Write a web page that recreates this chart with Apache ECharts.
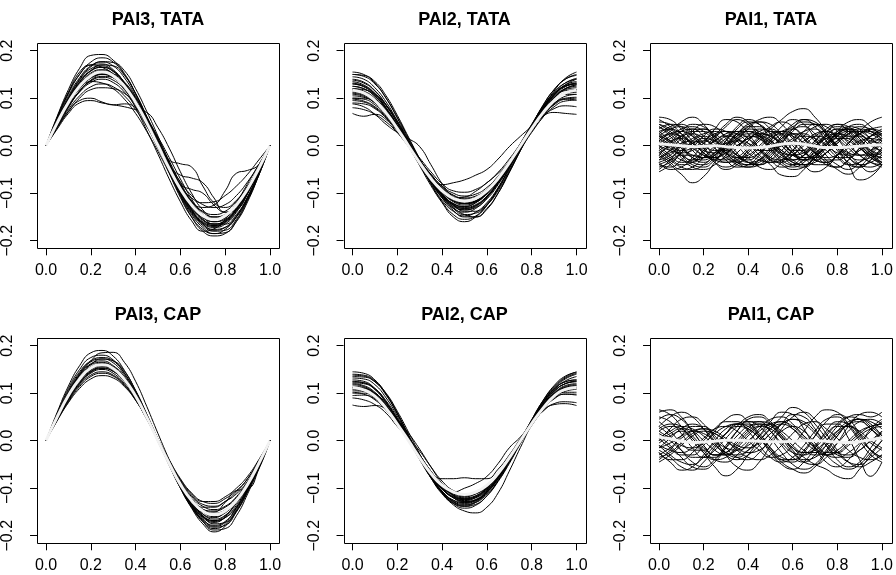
<!DOCTYPE html>
<html><head><meta charset="utf-8">
<script src="https://cdn.jsdelivr.net/npm/echarts@6/dist/echarts.min.js"></script>
<style>html,body{margin:0;padding:0;background:#fff}#c{width:896px;height:575px}</style>
</head><body><div id="c"></div>
<script>
// ---------- data (curve values in thousandths) ----------
const xGrid = [0,0.05,0.1,0.15,0.2,0.25,0.3,0.35,0.4,0.45,0.5,0.55,0.6,0.65,0.7,0.75,0.8,0.85,0.9,0.95,1];
const xTicks = [0,0.2,0.4,0.6,0.8,1];
const xTickLabels = ['0.0','0.2','0.4','0.6','0.8','1.0'];
const yTicks = [-0.2,-0.1,0,0.1,0.2];
const yTickLabels = ['\u22120.2','\u22120.1','0.0','0.1','0.2'];
const titles = ['PAI3, TATA','PAI2, TATA','PAI1, TATA','PAI3, CAP','PAI2, CAP','PAI1, CAP'];

const pai3Tata = [
[0,62,118,163,190,192,180,152,110,60,5,-50,-105,-150,-180,-190,-185,-158,-115,-62,0],
[0,57,109,150,176,185,176,150,109,57,0,-57,-109,-150,-176,-185,-176,-150,-109,-57,0],
[0,52,100,140,166,177,175,158,120,72,20,-35,-88,-134,-165,-176,-172,-150,-112,-62,0],
[0,58,112,155,170,165,150,120,80,32,-18,-70,-118,-158,-180,-175,-155,-120,-80,-40,0],
[0,51,97,133,157,165,157,133,97,51,0,-51,-97,-133,-157,-165,-157,-133,-97,-51,0],
[0,50,95,130,153,160,152,130,96,52,5,-48,-98,-138,-162,-170,-162,-138,-100,-53,0],
[0,46,88,121,143,150,143,121,88,46,0,-50,-94,-130,-152,-160,-152,-130,-94,-50,0],
[0,42,82,115,137,146,144,130,100,58,12,-36,-82,-120,-145,-152,-145,-125,-92,-50,0],
[0,43,82,113,133,140,133,113,82,43,0,-45,-85,-117,-138,-145,-138,-117,-85,-45,0],
[0,45,88,120,135,132,120,98,68,30,-12,-58,-105,-145,-172,-185,-183,-160,-118,-62,0],
[0,40,76,105,124,130,124,105,76,40,0,-40,-76,-105,-124,-130,-124,-105,-76,-40,0],
[0,38,72,95,100,92,86,88,80,55,18,-25,-70,-112,-145,-160,-155,-132,-96,-50,0],
[0,35,68,90,95,90,86,82,76,70,38,-5,-55,-100,-135,-150,-145,-125,-92,-48,0],
[0,48,92,128,150,158,150,125,88,45,2,-30,-38,-45,-85,-120,-130,-115,-85,-45,0],
[0,45,86,120,142,150,143,122,90,48,2,-45,-88,-118,-130,-125,-95,-58,-52,-40,0],
[0,47,90,124,146,154,146,124,90,47,0,-45,-85,-110,-120,-118,-105,-85,-60,-30,0],
[0,38,72,100,118,122,120,110,88,52,10,-38,-85,-125,-155,-168,-160,-135,-98,-52,0],
[0,55,104,143,168,176,168,143,104,55,0,-52,-100,-140,-165,-178,-172,-148,-108,-57,0],
[0,60,112,150,170,172,160,132,92,45,-5,-55,-102,-142,-168,-180,-178,-155,-112,-58,0],
[0,50,96,133,158,170,168,148,110,62,12,-40,-92,-135,-163,-172,-165,-140,-102,-54,0],
[0,44,84,115,136,144,138,118,86,46,2,-42,-82,-116,-140,-150,-146,-128,-95,-50,0],
[0,53,100,138,162,168,158,132,94,48,-2,-52,-98,-136,-160,-168,-160,-135,-98,-52,0],
[0,40,80,115,138,150,150,134,102,60,15,-32,-78,-118,-148,-165,-165,-145,-108,-58,0],
[0,47,92,128,150,156,146,122,86,42,-5,-52,-95,-130,-155,-165,-158,-134,-96,-50,0],
[0,46,88,122,144,152,144,122,88,46,0,-42,-62,-68,-78,-110,-140,-135,-100,-52,0],
[0,52,98,135,158,165,156,130,92,46,-2,-50,-82,-92,-100,-125,-140,-128,-95,-50,0]
];
const pai3TataMean = [0,48,91,125,147,155,147,125,91,48,0,-48,-91,-125,-147,-155,-147,-125,-91,-48,0];

const pai2Tata = [
[155,150,132,100,58,12,-35,-80,-118,-145,-155,-148,-125,-90,-48,-2,42,85,118,140,150],
[145,140,122,92,52,8,-38,-80,-115,-138,-148,-140,-120,-88,-46,-2,42,84,118,140,148],
[138,132,115,86,48,5,-38,-76,-108,-128,-135,-130,-112,-82,-44,-2,40,80,112,132,140],
[130,125,108,80,44,3,-36,-72,-102,-122,-130,-124,-106,-77,-40,2,42,78,106,124,132],
[125,120,104,78,42,2,-38,-74,-104,-122,-128,-120,-100,-70,-34,5,45,82,110,125,130],
[120,115,100,74,40,2,-36,-70,-98,-116,-122,-116,-98,-70,-36,2,40,75,102,118,122],
[115,112,98,74,42,6,-32,-68,-96,-114,-120,-116,-100,-74,-40,-2,36,72,100,116,118],
[110,106,92,68,36,0,-36,-70,-98,-116,-122,-118,-102,-76,-42,-4,34,70,96,110,112],
[105,102,90,68,38,4,-30,-62,-90,-108,-115,-110,-94,-68,-35,2,38,70,95,108,108],
[100,98,86,65,36,4,-30,-62,-88,-105,-112,-108,-92,-66,-34,2,38,70,96,112,118],
[95,92,80,60,32,0,-34,-66,-94,-112,-118,-112,-95,-68,-34,2,36,66,88,100,102],
[90,88,78,58,32,2,-30,-60,-85,-100,-106,-102,-88,-64,-32,2,35,64,86,98,100],
[68,62,66,55,28,-2,-35,-68,-98,-118,-125,-118,-100,-72,-38,0,36,70,96,110,115],
[88,82,66,45,28,15,-2,-40,-80,-108,-122,-116,-98,-70,-36,0,36,70,96,112,118],
[130,124,106,78,42,2,-35,-66,-82,-78,-72,-62,-50,-28,-2,20,42,70,100,120,128],
[108,104,90,68,36,2,-34,-68,-96,-110,-108,-96,-78,-58,-34,-6,28,60,88,104,108],
[140,134,116,86,48,6,-36,-74,-105,-125,-132,-126,-108,-80,-44,-4,36,72,100,120,128],
[120,118,108,86,52,12,-28,-66,-100,-124,-138,-138,-122,-92,-52,-8,36,76,108,128,135],
[112,108,94,70,38,2,-36,-72,-104,-126,-135,-128,-108,-78,-40,2,42,80,108,126,132],
[135,128,110,80,42,0,-40,-78,-110,-132,-140,-132,-110,-78,-40,2,40,76,104,120,125],
[100,100,92,72,42,6,-32,-70,-104,-130,-145,-150,-134,-100,-56,-10,32,68,90,98,96],
[118,112,96,70,36,-2,-40,-76,-105,-122,-128,-120,-100,-70,-34,4,40,62,70,68,66],
[150,146,130,100,60,16,-28,-70,-106,-132,-145,-142,-125,-95,-55,-10,34,74,106,128,140],
[98,94,82,62,34,2,-30,-60,-86,-104,-110,-106,-92,-68,-38,-4,30,60,82,94,96],
[132,126,110,84,48,8,-32,-70,-102,-124,-132,-126,-106,-76,-38,4,44,82,112,132,142],
[125,120,104,76,40,0,-42,-84,-120,-150,-160,-150,-126,-90,-48,-4,40,78,108,126,130],
[80,76,66,50,28,2,-26,-55,-80,-95,-98,-92,-78,-56,-28,4,36,62,78,84,82],
[150,148,135,105,64,18,-28,-72,-110,-136,-150,-150,-132,-100,-56,-8,38,80,115,142,155]
];
const pai2TataMean = [117,111,95,69,36,0,-36,-69,-95,-111,-117,-111,-95,-69,-36,0,36,69,95,111,117];

const pai1Tata = [
[60,55,35,10,-15,-30,-25,-5,20,35,30,10,-15,-30,-20,5,25,35,20,0,-10],
[-55,-40,-15,10,20,5,-20,-40,-45,-30,-5,15,25,15,-10,-35,-45,-30,-5,20,30],
[20,35,40,25,-5,-35,-50,-40,-15,10,25,30,15,-10,-30,-35,-20,5,25,35,30],
[-10,-30,-45,-50,-40,-20,0,20,30,20,0,-20,-30,-20,0,20,35,30,10,-15,-25],
[40,25,0,-25,-35,-20,10,40,55,45,15,-15,-35,-40,-25,0,20,30,25,10,5],
[-30,-20,5,30,45,40,15,-15,-35,-40,-25,5,35,55,50,25,-10,-35,-45,-30,-5],
[10,-10,-30,-35,-15,15,40,55,45,20,-10,-35,-45,-35,-10,20,35,25,0,-25,-35],
[50,45,25,0,-20,-25,-10,15,30,25,5,-20,-40,-45,-30,-5,20,40,45,30,15],
[-40,-45,-30,-5,20,35,30,10,-15,-30,-35,-20,5,30,45,40,15,-15,-40,-55,-40],
[0,15,30,35,20,-5,-30,-45,-40,-20,10,40,55,45,15,-20,-40,-50,-35,-10,15],
[25,5,-20,-40,-45,-30,-5,20,40,55,60,45,20,-10,-30,-35,-20,5,25,35,40],
[-20,5,30,45,40,20,-5,-25,-30,-15,10,30,35,20,-5,-30,-50,-60,-45,-20,5],
[35,45,40,20,-5,-25,-30,-15,10,30,35,20,-10,-40,-55,-45,-20,5,25,30,20],
[-5,-25,-40,-35,-10,20,45,60,50,25,-5,-30,-40,-30,-5,25,45,40,15,-15,-35],
[15,25,20,5,-15,-30,-35,-25,-5,20,40,50,40,15,-15,-40,-45,-30,-5,20,35],
[-45,-35,-15,5,15,10,-5,-20,-25,-15,5,25,40,50,45,25,0,-20,-30,-25,-15],
[30,10,-15,-35,-40,-25,0,25,35,30,10,-15,-35,-40,-25,0,30,50,55,40,20],
[-25,-15,0,15,25,30,20,0,-25,-45,-50,-35,-10,20,40,45,30,5,-20,-35,-40],
[5,20,35,40,30,10,-15,-35,-45,-40,-20,5,30,45,45,25,-5,-40,-72,-65,-40],
[45,35,15,-5,-20,-25,-15,0,15,20,10,-10,-30,-40,-35,-15,10,30,40,35,25],
[-15,-35,-50,-45,-25,0,20,25,15,-5,-25,-40,-50,-45,-25,0,25,40,35,15,-5],
[10,30,50,60,45,15,-15,-35,-40,-30,-10,15,35,40,25,0,-25,-40,-35,-15,10],
[-35,-50,-45,-25,5,35,55,50,25,-5,-30,-45,-40,-20,10,35,45,30,5,-20,-35],
[20,0,-25,-45,-50,-40,-20,10,35,50,45,25,0,-25,-40,-40,-20,5,30,50,60],
[0,-10,-15,-10,5,20,30,25,5,-20,-40,-62,-65,-50,-20,10,30,35,25,5,-15],
[-50,-30,0,25,35,25,5,-20,-35,-30,-10,20,45,55,40,10,-20,-40,-45,-30,-10],
[55,40,15,-10,-25,-20,0,25,45,50,35,10,-15,-30,-30,-15,5,20,20,5,-15],
[-20,-40,-60,-78,-65,-35,-5,15,25,20,5,-10,-20,-15,0,15,25,20,5,-10,-20],
[25,40,45,30,5,-20,-35,-30,-10,15,35,55,72,78,60,30,0,-25,-40,-35,-20],
[-10,5,20,25,15,-5,-25,-35,-25,-5,15,25,20,5,-15,-30,-30,-15,5,20,25],
[40,20,-5,-25,-30,-15,10,35,50,45,25,0,-20,-25,-15,5,25,35,30,15,0],
[-30,-10,15,30,30,15,-10,-30,-40,-35,-15,10,25,25,10,-10,-25,-25,-10,10,25],
[5,-5,-20,-30,-25,-5,15,30,30,15,-5,-25,-30,-20,0,15,20,10,-5,-20,-25],
[-35,-25,-10,5,10,0,-15,-25,-20,0,20,30,25,5,-15,-25,-20,-5,10,15,10],
[30,35,25,5,-10,-15,-5,10,20,15,0,-15,-20,-10,10,30,40,35,15,-10,-30],
[-5,10,15,5,-15,-35,-45,-35,-10,15,30,25,5,-15,-25,-15,5,25,35,30,15],
[15,0,-10,-5,10,25,30,15,-5,-25,-35,-30,-10,10,20,15,-5,-25,-40,-45,-35],
[-25,-10,5,10,0,-10,-10,0,15,25,20,0,-20,-30,-20,0,15,15,0,-20,-40],
[45,30,10,-5,-5,10,25,30,15,-10,-30,-35,-20,5,25,30,15,-5,-20,-20,-5],
[-15,0,20,35,35,20,0,-20,-35,-40,-30,-10,10,20,15,0,-15,-20,-10,5,15],
[20,10,-5,-20,-25,-15,5,25,40,40,25,5,-15,-25,-20,-5,10,25,30,25,10],
[-40,-30,-20,-20,-25,-25,-15,0,15,25,20,5,-10,-10,5,20,25,15,-5,-25,-40],
[0,-20,-35,-30,-10,10,20,15,0,-10,-10,0,15,30,35,20,0,-15,-20,-10,5],
[10,25,30,20,5,0,5,10,5,-10,-25,-30,-20,0,20,30,20,0,-20,-35,-45]
];
const pai1TataMean = [4,2,0,-2,-1,0,-2,-4,-5,-4,-1,3,5,3,-1,-4,-4,-3,-1,1,2];

const pai3Cap = [
[0,60,115,158,185,190,178,148,105,55,3,-50,-100,-142,-175,-192,-180,-148,-105,-55,0],
[0,52,100,140,168,185,186,165,125,72,15,-40,-92,-136,-170,-188,-185,-158,-112,-58,0],
[0,57,110,150,175,180,170,142,100,52,2,-48,-96,-136,-165,-180,-172,-140,-100,-52,0],
[0,54,103,142,166,172,164,138,100,52,2,-50,-98,-138,-166,-178,-170,-142,-102,-53,0],
[0,52,100,138,162,168,158,134,96,50,0,-50,-96,-134,-160,-170,-162,-136,-98,-52,0],
[0,50,96,133,156,163,155,131,95,50,0,-49,-94,-130,-155,-165,-157,-132,-96,-50,0],
[0,48,93,128,150,158,150,128,93,48,0,-48,-92,-126,-150,-160,-152,-128,-93,-48,0],
[0,47,90,124,146,153,146,124,90,47,0,-46,-88,-122,-144,-152,-146,-124,-90,-47,0],
[0,45,87,120,142,150,142,120,87,45,0,-45,-86,-118,-138,-145,-138,-118,-86,-45,0],
[0,44,84,117,138,145,138,118,86,46,2,-44,-84,-115,-134,-138,-128,-108,-80,-42,0],
[0,43,82,114,135,142,136,116,86,46,2,-42,-82,-112,-128,-128,-118,-100,-75,-40,0],
[0,42,80,110,130,137,132,114,85,46,3,-40,-80,-110,-128,-132,-122,-105,-80,-42,0],
[0,46,90,125,148,158,152,130,95,50,2,-46,-92,-130,-158,-175,-172,-148,-106,-55,0],
[0,50,97,135,160,172,168,146,106,56,3,-50,-98,-140,-170,-185,-176,-145,-102,-52,0],
[0,48,92,128,152,162,156,134,98,52,2,-48,-94,-134,-162,-172,-160,-128,-100,-58,0],
[0,45,88,122,144,152,146,125,92,48,0,-48,-92,-128,-150,-150,-130,-105,-102,-60,0],
[0,52,100,138,160,165,155,130,94,48,0,-48,-94,-132,-158,-168,-162,-140,-102,-54,0],
[0,56,106,145,168,175,168,142,103,54,0,-52,-100,-140,-168,-182,-178,-150,-108,-56,0],
[0,44,86,120,145,155,150,130,96,52,4,-44,-90,-128,-154,-162,-150,-125,-92,-48,0],
[0,49,94,130,153,160,152,128,93,48,0,-47,-90,-125,-145,-148,-140,-120,-90,-48,0],
[0,47,91,126,149,157,148,125,90,46,-2,-50,-96,-134,-160,-168,-158,-130,-94,-50,0],
[0,51,98,134,155,160,150,126,92,48,2,-45,-88,-122,-140,-140,-128,-112,-85,-46,0]
];
const pai3CapMean = [0,50,95,130,153,160,152,129,94,49,0,-48,-92,-126,-148,-155,-148,-126,-92,-48,0];

const pai2Cap = [
[145,142,128,98,58,12,-35,-78,-112,-132,-138,-130,-110,-80,-42,0,42,82,112,132,142],
[138,136,124,96,56,10,-36,-78,-110,-130,-136,-128,-108,-78,-40,2,44,84,114,134,145],
[132,130,118,90,52,8,-36,-76,-106,-125,-130,-124,-105,-76,-40,0,40,78,108,126,135],
[128,125,110,82,44,2,-40,-78,-108,-126,-132,-126,-106,-76,-38,2,42,80,108,124,128],
[124,122,108,80,44,4,-36,-72,-102,-120,-126,-120,-102,-74,-38,2,40,76,104,120,126],
[120,116,102,76,42,4,-34,-70,-100,-118,-124,-118,-100,-72,-36,2,40,76,104,120,124],
[115,112,98,72,38,0,-38,-74,-102,-118,-122,-116,-98,-70,-36,2,40,74,100,114,118],
[110,108,96,72,40,4,-32,-66,-94,-112,-118,-112,-96,-70,-36,2,38,72,98,112,115],
[105,104,94,72,42,6,-30,-64,-92,-110,-116,-112,-98,-74,-40,-2,36,70,96,108,110],
[100,100,90,70,40,6,-30,-64,-94,-114,-122,-118,-100,-72,-36,2,38,70,92,102,102],
[95,96,88,68,38,4,-32,-66,-96,-116,-124,-120,-104,-76,-40,0,36,66,88,98,98],
[75,72,74,66,42,8,-30,-66,-98,-120,-130,-126,-108,-78,-40,0,38,72,98,112,116],
[90,86,76,58,30,5,-22,-55,-85,-105,-112,-108,-94,-70,-38,0,38,70,90,98,96],
[122,120,108,80,45,16,-18,-55,-90,-115,-128,-125,-108,-80,-42,0,42,80,108,124,128],
[118,114,100,74,40,4,-35,-68,-80,-80,-78,-80,-80,-60,-30,5,40,74,100,116,120],
[112,110,98,74,40,2,-36,-72,-100,-108,-100,-90,-75,-48,-15,8,38,70,96,110,112],
[125,122,110,84,48,6,-36,-76,-110,-135,-148,-152,-140,-110,-64,-14,34,74,104,120,125],
[108,104,92,68,36,0,-38,-74,-106,-128,-138,-134,-116,-86,-48,-6,34,62,76,78,74],
[140,138,126,98,58,12,-34,-76,-108,-128,-134,-130,-112,-84,-46,-4,34,62,78,82,80],
[102,98,86,64,34,0,-36,-70,-100,-120,-128,-124,-108,-80,-42,0,42,80,110,130,140],
[135,134,124,100,62,18,-28,-72,-108,-132,-142,-136,-116,-84,-44,0,44,84,116,136,144],
[112,110,100,78,46,8,-30,-66,-96,-114,-120,-116,-100,-74,-40,-4,32,64,90,104,108]
];
const pai2CapMean = [112,107,94,68,35,0,-36,-69,-94,-108,-113,-108,-94,-69,-36,0,36,68,94,108,112];

const pai1Cap = [
[60,65,50,20,-10,-30,-25,0,25,40,35,10,-20,-40,-35,-10,20,40,45,30,10],
[-40,-20,10,30,30,10,-15,-35,-40,-25,5,35,55,50,25,-10,-40,-55,-45,-15,20],
[30,10,-20,-45,-55,-40,-10,20,40,40,20,-10,-35,-45,-30,0,30,50,55,50,60],
[-10,-30,-45,-50,-35,-10,15,35,40,30,5,-25,-50,-60,-50,-20,10,35,45,35,10],
[50,40,15,-15,-35,-35,-15,10,30,35,20,-5,-25,-30,-15,10,35,50,45,25,0],
[0,25,45,50,35,5,-30,-55,-62,-45,-10,25,50,60,45,15,-20,-45,-55,-45,-30],
[-20,-35,-55,-62,-45,-15,15,35,35,15,-15,-40,-45,-25,10,40,55,45,15,-20,-40],
[20,30,25,5,-20,-40,-45,-30,-5,25,45,50,35,10,-15,-30,-35,-25,-5,20,40],
[-30,-15,5,20,25,15,0,-15,-25,-20,0,20,30,20,-5,-30,-50,-60,-50,-25,0],
[65,55,30,0,-25,-40,-35,-15,10,30,35,20,0,-20,-30,-25,-5,20,40,45,35],
[10,-10,-35,-55,-60,-45,-15,20,45,50,35,5,-25,-45,-50,-35,-5,30,55,60,50],
[-15,5,25,35,25,0,-25,-35,-20,10,40,60,55,25,-15,-45,-55,-40,-10,25,45],
[40,20,-5,-20,-20,-5,15,30,25,5,-25,-50,-60,-45,-15,20,40,35,10,-20,-35],
[-5,10,20,5,-25,-55,-74,-60,-30,0,25,35,25,5,-15,-30,-25,-5,15,30,35],
[25,35,30,10,-15,-30,-25,-5,20,35,30,10,-15,-35,-50,-60,-75,-80,-60,-30,0],
[-25,-40,-40,-25,0,25,40,40,20,-10,-35,-45,-35,-10,20,45,50,30,0,-30,-45],
[5,-15,-30,-30,-10,20,45,55,40,10,-20,-40,-40,-20,10,35,35,5,-40,-75,-45],
[45,55,45,20,-10,-30,-30,-10,15,30,25,5,-15,-25,-20,0,20,30,20,0,-15],
[-35,-25,-5,15,25,20,5,-10,-15,-5,15,35,45,40,20,-5,-25,-30,-20,0,20],
[15,0,-20,-35,-35,-20,5,30,50,55,40,15,-10,-25,-25,-10,15,35,40,25,5],
[-10,-20,-25,-15,5,25,30,20,0,-20,-35,-30,-10,20,50,65,60,35,5,-20,-35],
[30,50,60,50,25,-5,-30,-40,-30,-10,15,35,45,35,15,-10,-30,-35,-20,0,15],
[-25,-45,-62,-55,-30,0,25,35,30,10,-15,-35,-40,-30,-10,15,30,30,15,-5,-20],
[5,20,30,25,10,-10,-25,-30,-20,0,25,50,70,60,35,5,-25,-45,-50,-35,-15],
[-45,-30,-10,10,20,15,0,-20,-35,-40,-30,-10,15,35,40,25,5,-20,-35,-40,-30],
[20,5,-10,-15,-5,15,30,35,25,5,-20,-45,-60,-68,-55,-25,10,35,45,40,25],
[0,15,25,20,0,-20,-30,-20,0,20,35,40,25,0,-20,-30,-20,0,20,30,35],
[-15,-5,10,20,15,0,-15,-20,-10,10,30,40,30,10,-10,-25,-25,-10,10,25,30]
];
const pai1CapMean = [8,4,-1,-4,-3,-1,1,1,0,-1,-2,-2,-1,0,0,-1,-3,-4,-2,2,6];

// ---------- layout ----------
const panels = [
  {title: titles[0], curves: pai3Tata, mean: pai3TataMean},
  {title: titles[1], curves: pai2Tata, mean: pai2TataMean},
  {title: titles[2], curves: pai1Tata, mean: pai1TataMean},
  {title: titles[3], curves: pai3Cap, mean: pai3CapMean},
  {title: titles[4], curves: pai2Cap, mean: pai2CapMean},
  {title: titles[5], curves: pai1Cap, mean: pai1CapMean}
];
const colLeft = [46, 352.5, 659];
const rowTop = [50.7, 345.7];
const plotW = 224, plotH = 190;
const padX = 0.04 * plotW, padY = 0.04 * plotH;   // R's 4% axis extension
const FONT = '"Liberation Sans", Arial, Helvetica, sans-serif';
const UNIT = 1000;
const MEAN_COLOR = '#f2f2f2';

const grids = [], xAxes = [], yAxes = [], titleOpts = [], boxes = [], curveSeries = [], meanSeries = [];
panels.forEach((p, i) => {
  const left = colLeft[i % 3], top = rowTop[Math.floor(i / 3)];
  grids.push({left: left, top: top, width: plotW, height: plotH});
  xAxes.push({
    gridIndex: i, type: 'value', min: 0, max: 1, interval: 0.2, offset: padY, position: 'bottom',
    axisLine: {show: false, onZero: false}, splitLine: {show: false},
    axisTick: {show: true, inside: false, length: 7, lineStyle: {color: '#000', width: 1}},
    axisLabel: {fontSize: 16, color: '#000', fontFamily: FONT, margin: 14,
      formatter: v => xTickLabels[xTicks.findIndex(t => Math.abs(t - v) < 1e-6)]}
  });
  yAxes.push({
    gridIndex: i, type: 'value', min: -0.2, max: 0.2, interval: 0.1, offset: padX, position: 'left',
    axisLine: {show: false, onZero: false}, splitLine: {show: false},
    axisTick: {show: true, inside: false, length: 7, lineStyle: {color: '#000', width: 1}},
    axisLabel: {fontSize: 16, color: '#000', fontFamily: FONT, margin: 21, rotate: 90,
      formatter: v => yTickLabels[yTicks.findIndex(t => Math.abs(t - v) < 1e-6)]}
  });
  titleOpts.push({
    text: p.title, left: left + plotW / 2, top: top - 40, textAlign: 'center', padding: 0,
    textStyle: {fontSize: 18, fontWeight: 'bold', color: '#000', fontFamily: FONT}
  });
  boxes.push({
    type: 'rect', silent: true, z: 100,
    shape: {x: Math.round(left - padX) + 0.5, y: Math.round(top - padY) + 0.5,
            width: Math.round(plotW + 2 * padX), height: Math.round(plotH + 2 * padY)},
    style: {fill: 'none', stroke: '#000', lineWidth: 1}
  });
  p.curves.forEach(c => {
    curveSeries.push({
      type: 'line', xAxisIndex: i, yAxisIndex: i, silent: true,
      data: xGrid.map((x, j) => [x, c[j] / UNIT]),
      symbol: 'none', smooth: 0.5,
      lineStyle: {color: '#000', width: 1}, z: 2
    });
  });
  meanSeries.push({
    type: 'line', xAxisIndex: i, yAxisIndex: i, silent: true,
    data: xGrid.map((x, j) => [x, p.mean[j] / UNIT]),
    symbol: 'none', smooth: 0.5,
    lineStyle: {color: MEAN_COLOR, width: 3, opacity: 1}, z: 10
  });
});

const chart = echarts.init(document.getElementById('c'), null, {renderer: 'canvas'});
chart.setOption({
  animation: false,
  backgroundColor: '#fff',
  title: titleOpts,
  grid: grids,
  xAxis: xAxes,
  yAxis: yAxes,
  graphic: {elements: boxes},
  series: curveSeries.concat(meanSeries)
});
</script>
</body></html>
